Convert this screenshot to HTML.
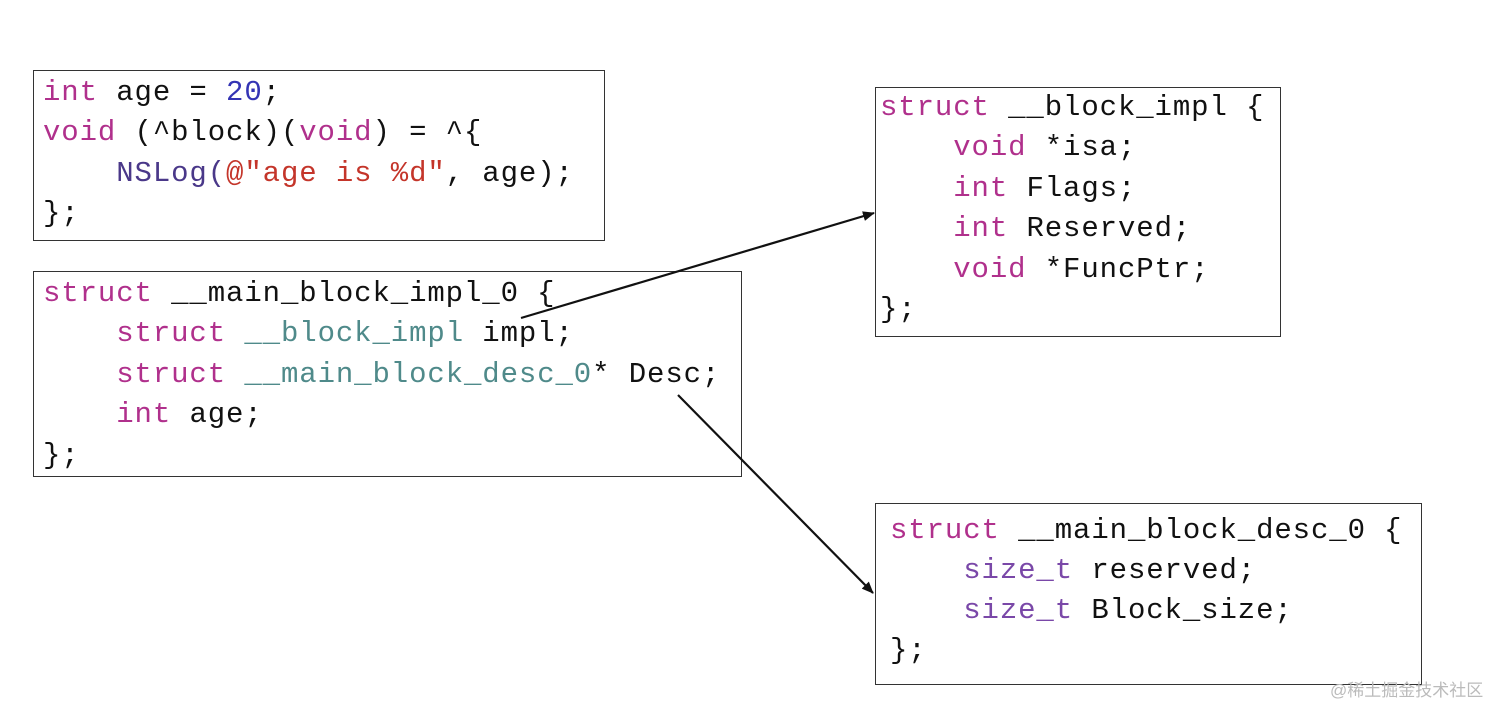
<!DOCTYPE html>
<html><head><meta charset="utf-8"><style>
body{margin:0;width:1512px;height:718px;background:#fff;position:relative;overflow:hidden;font-family:"Liberation Mono",monospace;}
.box{position:absolute;border:1.5px solid #333;box-sizing:border-box;}
.l{position:absolute;font-size:29px;letter-spacing:0.9px;line-height:40px;height:40px;white-space:pre;color:#111;}
.k{color:#b0308c}.n{color:#3434b4}.s{color:#c4352a}.f{color:#4a3889}.t{color:#4f8a8a}.z{color:#7a48a8}
.wm{position:absolute;left:1330px;top:676px;font-family:"Liberation Sans","Noto Sans CJK SC",sans-serif;font-size:17px;color:#bbb;}
</style></head><body>
<div class="box" style="left:33px;top:70px;width:572px;height:171px"></div>
<div class="box" style="left:33px;top:271px;width:709px;height:206px"></div>
<div class="box" style="left:875px;top:87px;width:406px;height:250px"></div>
<div class="box" style="left:875px;top:503px;width:547px;height:182px"></div>

<div class="l" style="left:43px;top:73px"><span class="k">int</span> age = <span class="n">20</span>;</div>
<div class="l" style="left:43px;top:113px"><span class="k">void</span> (^block)(<span class="k">void</span>) = ^{</div>
<div class="l" style="left:43px;top:154px">    <span class="f">NSLog(</span><span class="s">@"age is %d"</span>, age);</div>
<div class="l" style="left:43px;top:194px">};</div>

<div class="l" style="left:43px;top:274px"><span class="k">struct</span> __main_block_impl_0 {</div>
<div class="l" style="left:43px;top:314px">    <span class="k">struct</span> <span class="t">__block_impl</span> impl;</div>
<div class="l" style="left:43px;top:355px">    <span class="k">struct</span> <span class="t">__main_block_desc_0</span>* Desc;</div>
<div class="l" style="left:43px;top:395px">    <span class="k">int</span> age;</div>
<div class="l" style="left:43px;top:436px">};</div>

<div class="l" style="left:880px;top:88px"><span class="k">struct</span> __block_impl {</div>
<div class="l" style="left:880px;top:128px">    <span class="k">void</span> *isa;</div>
<div class="l" style="left:880px;top:169px">    <span class="k">int</span> Flags;</div>
<div class="l" style="left:880px;top:209px">    <span class="k">int</span> Reserved;</div>
<div class="l" style="left:880px;top:250px">    <span class="k">void</span> *FuncPtr;</div>
<div class="l" style="left:880px;top:290px">};</div>

<div class="l" style="left:890px;top:511px"><span class="k">struct</span> __main_block_desc_0 {</div>
<div class="l" style="left:890px;top:551px">    <span class="z">size_t</span> reserved;</div>
<div class="l" style="left:890px;top:591px">    <span class="z">size_t</span> Block_size;</div>
<div class="l" style="left:890px;top:631px">};</div>

<svg width="1512" height="718" style="position:absolute;left:0;top:0">
<defs><marker id="a" markerWidth="12" markerHeight="10" refX="11" refY="5" orient="auto" markerUnits="userSpaceOnUse"><path d="M0,0 L12,5 L0,10 z" fill="#111"/></marker></defs>
<line x1="521" y1="318" x2="874" y2="213" stroke="#111" stroke-width="2.2" marker-end="url(#a)"/>
<line x1="678" y1="395" x2="873" y2="593" stroke="#111" stroke-width="2.2" marker-end="url(#a)"/>
</svg>
<div class="wm">@稀土掘金技术社区</div>
</body></html>
